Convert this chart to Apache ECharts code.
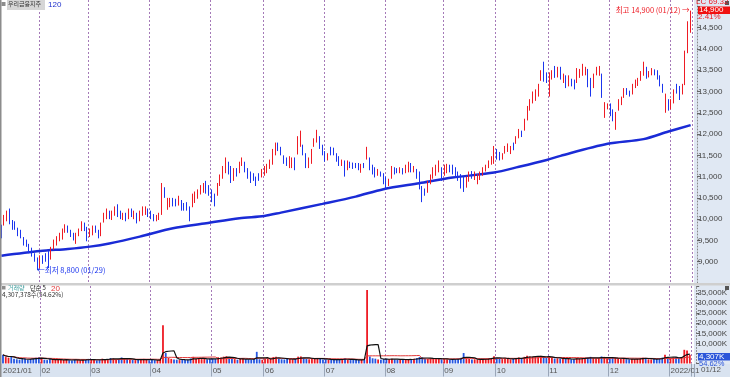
<!DOCTYPE html>
<html>
<head>
<meta charset="utf-8">
<script src="https://cdn.jsdelivr.net/npm/echarts@6/dist/echarts.min.js"></script>
<style>
  html, body { margin: 0; padding: 0; background: #fff; }
  #chart { width: 730px; height: 377px; }
</style>
</head>
<body>
<div id="chart"></div>
<script>
// trading days shown (2021-01-12 .. 2022-01-12)
const months = ['2021-01', '2021-02', '2021-03', '2021-04', '2021-05', '2021-06', '2021-07',
  '2021-08', '2021-09', '2021-10', '2021-11', '2021-12', '2022-01'];
const monthDays = [
  [12, 13, 14, 15, 18, 19, 20, 21, 22, 25, 26, 27, 28, 29],
  [1, 2, 3, 4, 5, 8, 9, 10, 15, 16, 17, 18, 19, 22, 23, 24, 25, 26],
  [2, 3, 4, 5, 8, 9, 10, 11, 12, 15, 16, 17, 18, 19, 22, 23, 24, 25, 26, 29, 30, 31],
  [1, 2, 5, 6, 7, 8, 9, 12, 13, 14, 15, 16, 19, 20, 21, 22, 23, 26, 27, 28, 29, 30],
  [3, 4, 6, 7, 10, 11, 12, 13, 14, 17, 18, 20, 21, 24, 25, 26, 27, 28, 31],
  [1, 2, 3, 4, 7, 8, 9, 10, 11, 14, 15, 16, 17, 18, 21, 22, 23, 24, 25, 28, 29, 30],
  [1, 2, 5, 6, 7, 8, 9, 12, 13, 14, 15, 16, 19, 20, 21, 22, 23, 26, 27, 28, 29, 30],
  [2, 3, 4, 5, 6, 9, 10, 11, 12, 13, 17, 18, 19, 20, 23, 24, 25, 26, 27, 30, 31],
  [1, 2, 3, 6, 7, 8, 9, 10, 13, 14, 15, 16, 17, 23, 24, 27, 28, 29, 30],
  [1, 5, 6, 7, 8, 12, 13, 14, 15, 18, 19, 20, 21, 22, 25, 26, 27, 28, 29],
  [1, 2, 3, 4, 5, 8, 9, 10, 11, 12, 15, 16, 17, 18, 19, 22, 23, 24, 25, 26, 29, 30],
  [1, 2, 3, 6, 7, 8, 9, 10, 13, 14, 15, 16, 17, 20, 21, 22, 23, 24, 27, 28, 29, 30],
  [3, 4, 5, 6, 7, 10, 11, 12]
];

// [open, close, low, high]
const ohlcJan21 = [[9820,9600,9550,9870],[9880,10050,9850,10100],[10000,10150,9950,10200],[10200,9900,9880,10250],
  [9950,9780,9750,9980],[9900,9800,9750,9950],[9750,9650,9600,9800],[9700,9580,9550,9750],[9550,9400,9380,9580],
  [9500,9380,9350,9520],[9400,9250,9200,9420],[9300,9150,9120,9330],[9180,9050,9000,9200],[9050,8900,8800,9100]];
const ohlcFeb21 = [[8900,9100,8850,9150],[9100,9000,8950,9150],[9150,9050,9000,9200],[9200,9000,8850,9250],
  [9100,9320,9050,9350],[9300,9500,9280,9520],[9400,9550,9380,9600],[9500,9650,9480,9680],[9550,9750,9520,9780],
  [9700,9850,9680,9880],[9800,9700,9680,9850],[9700,9600,9580,9750],[9650,9550,9500,9680],[9450,9650,9420,9680],
  [9650,9750,9600,9780],[9750,9900,9720,9950],[9900,9750,9720,9920],[9800,9550,9480,9820]];
const ohlcMar21 = [[9600,9750,9580,9780],[9650,9800,9620,9850],[9800,9700,9680,9850],[9700,9600,9550,9750],
  [9620,9900,9600,9920],[9950,10100,9920,10150],[10050,10200,10000,10250],[10150,10050,10000,10200],
  [10000,10150,9980,10200],[10100,10250,10080,10300],[10300,10100,10050,10350],[10150,10050,10000,10200],
  [10000,10100,9980,10150],[10100,10000,9950,10150],[10050,10200,10000,10250],[10200,10100,10050,10250],
  [10050,10150,10000,10200],[10100,9950,9900,10150],[9980,10150,9950,10200],[10100,10280,10080,10300],
  [10150,10250,10100,10300],[10200,10100,10050,10250]];
const ohlcApr21 = [[10150,10050,10000,10200],[10100,10000,9950,10120],[9980,10050,9950,10100],[10000,10120,9980,10150],
  [10150,10700,10100,10850],[10700,10550,10500,10750],[10250,10450,10220,10500],[10300,10450,10280,10500],
  [10450,10350,10300,10500],[10450,10350,10300,10480],[10350,10500,10320,10550],[10400,10250,10200,10450],
  [10350,10250,10200,10380],[10350,10250,10200,10400],[10280,10050,9950,10300],[10300,10550,10280,10600],
  [10400,10600,10380,10650],[10500,10650,10480,10700],[10600,10750,10580,10800],[10650,10800,10620,10850],
  [10850,10650,10600,10900],[10750,10600,10550,10800]];
const ohlcMay21 = [[10650,10450,10400,10700],[10550,10380,10300,10600],[10600,10800,10550,10850],[10800,11000,10780,11050],
  [11000,11200,10950,11250],[11100,11350,11080,11450],[11300,11100,11050,11350],[11200,10900,10850,11250],
  [10950,11150,10900,11200],[11150,11050,11000,11200],[11100,11320,11080,11350],[11300,11400,11250,11450],
  [11300,11150,11100,11350],[11150,10980,10950,11200],[11100,10880,10850,11120],[11050,10950,10900,11080],
  [10980,10820,10780,11000],[11050,10950,10900,11080],[11000,11150,10980,11180]];
const ohlcJun21 = [[11050,11200,11020,11250],[11100,11250,11080,11300],[11200,11350,11180,11400],[11300,11600,11280,11650],
  [11550,11750,11500,11800],[11750,11650,11600,11800],[11650,11560,11500,11700],[11470,11350,11300,11500],
  [11400,11300,11250,11450],[11230,11440,11200,11480],[11250,11400,11200,11450],[11400,11250,11150,11450],
  [11560,11910,11520,11950],[11750,12030,11700,12080],[11700,11550,11500,11750],[11500,11250,11200,11550],
  [11250,11400,11200,11450],[11350,11600,11300,11650],[11750,11860,11700,11900],[11820,12030,11800,12100],
  [11900,11700,11650,11950],[11700,11550,11500,11750]];
const ohlcJul21 = [[11560,11400,11350,11600],[11400,11500,11380,11550],[11650,11560,11500,11700],[11650,11550,11500,11680],
  [11500,11400,11350,11550],[11450,11300,11250,11480],[11280,11380,11250,11400],[11350,11050,11000,11380],
  [11200,11350,11150,11380],[11330,11250,11200,11350],[11300,11220,11180,11330],[11300,11220,11200,11320],
  [11300,11200,11150,11320],[11120,11280,11090,11300],[11300,11230,11200,11320],[11440,11630,11400,11700],
  [11440,11160,11150,11450],[11250,11100,11050,11280],[11200,11000,10980,11220],[11050,11150,11020,11180],
  [11100,11030,11000,11120],[11050,10850,10820,11080]];
const ohlcAug21 = [[10970,10760,10700,11000],[10800,10900,10780,10950],[10990,11200,10950,11250],[11180,11100,11050,11220],
  [11180,11100,11080,11200],[11100,11180,11080,11220],[11180,11100,11050,11200],[11100,11250,11080,11280],
  [11110,11330,11100,11350],[11300,11150,11100,11320],[11120,11220,11100,11250],[11150,11000,10950,11180],
  [11100,10800,10700,11120],[10760,10480,10400,10780],[10700,10600,10550,10720],[10640,10880,10620,10900],
  [10850,11000,10820,11050],[10990,11200,10950,11220],[11050,11250,11020,11280],[11110,11350,11100,11380],
  [11200,10920,10900,11220]];
const ohlcSep21 = [[11050,11250,11020,11280],[11100,11250,11080,11300],[11250,11150,11100,11280],[11250,11100,11050,11280],
  [11200,11000,10980,11220],[11100,10950,10900,11120],[11040,10760,10720,11060],[10970,10700,10640,11000],
  [10760,10970,10740,11000],[10900,11100,10880,11120],[11110,10990,10950,11130],[10950,11100,10920,11120],
  [10850,11040,10820,11060],[10950,11100,10920,11120],[11050,11200,11020,11220],[11150,11250,11120,11280],
  [11210,11350,11200,11380],[11300,11450,11280,11480],[11320,11700,11300,11720]];
const ohlcOct21 = [[11630,11440,11400,11650],[11550,11400,11380,11580],[11420,11520,11400,11550],[11560,11700,11540,11720],
  [11600,11750,11580,11780],[11550,11700,11530,11720],[11790,11650,11620,11800],[11790,11930,11770,11950],
  [11930,12100,11900,12120],[12050,11950,11930,12080],[12100,12340,12080,12360],[12340,12640,12320,12660],
  [12570,12800,12550,12820],[12740,12970,12720,13000],[12800,13000,12780,13050],[12900,13150,12880,13180],
  [13280,13470,13250,13500],[13600,13250,13230,13700],[13400,13250,13200,13450]];
const ohlcNov21 = [[12950,13400,12880,13450],[13300,13470,13280,13500],[13580,13350,13320,13600],[13350,13550,13330,13580],
  [13550,13300,13280,13580],[13230,13390,13200,13420],[13350,13110,13080,13380],[13150,13350,13120,13380],
  [13280,13150,13120,13300],[13250,13100,13050,13280],[13230,13510,13200,13550],[13350,13500,13320,13530],
  [13390,13630,13370,13650],[13400,13550,13380,13580],[13500,13150,13100,13530],[13300,13050,12880,13320],
  [13100,13400,13080,13420],[13400,13550,13380,13580],[13390,13580,13370,13600],[13400,12900,12850,13420],
  [12400,12700,12380,12750],[12600,12700,12580,12720]];
const ohlcDec21 = [[12690,12450,12420,12720],[12550,12350,12300,12580],[12300,12500,12100,12520],[12570,12800,12550,12820],
  [12700,12850,12680,12880],[12880,13050,12850,13080],[13050,12950,12920,13080],[13000,12900,12880,13020],
  [12950,13150,12930,13180],[13100,13250,13080,13280],[13150,13300,13130,13320],[13280,13450,13250,13480],
  [13390,13630,13370,13700],[13550,13320,13300,13580],[13350,13450,13330,13480],[13400,13520,13380,13550],
  [13500,13400,13380,13520],[13480,13300,13280,13500],[13350,13150,13120,13380],[13160,12990,12970,13180],
  [12600,12920,12500,12950],[12800,12600,12550,12820]];
const ohlcJan22 = [[12600,12800,12580,12820],[12750,13000,12720,13050],[13160,12970,12950,13180],[13110,12850,12800,13130],
  [12950,13150,12930,13180],[13160,13940,13150,13960],[13950,14550,13900,14650],[14700,14900,14380,14900]];

// volume, thousand shares
const volJan21 = [4300,3200,2900,3500,2400,2100,1900,2200,2600,1800,2300,2500,2800,3100];
const volFeb21 = [2600,1900,1700,2200,1800,2000,1900,1700,1800,2100,1600,1500,1900,1700,1500,2000,1800,2300];
const volMar21 = [1900,1700,1600,1800,2400,2200,2000,2700,2500,1900,2300,3000,2600,2200,2000,1800,1700,1900,2100,2300,1800,1600];
const volApr21 = [1900,1700,1600,1800,19000,5200,2800,2300,2000,1900,1700,2100,1800,1700,2500,3300,2300,2600,2200,2400,2000,2300];
const volMay21 = [2400,2200,3100,3000,3400,3600,2500,2800,2200,1900,2300,2500,2100,2000,1800,2200,5800,2100,1900];
const volJun21 = [2200,2400,2600,3200,3300,2400,2100,2000,2500,2200,2000,2300,3400,3500,2600,2300,2100,2600,2400,2700,2300,2000];
const volJul21 = [2100,1800,2000,1900,1800,2000,2300,2600,1800,1700,1900,1800,1700,1900,2000,36500,3500,2600,2400,2000,1900,2200];
const volAug21 = [2400,2100,2300,2000,1900,1800,2000,2200,1900,2100,2300,2700,3200,3000,2500,2300,2400,2500,2700,2200,2100];
const volSep21 = [2300,2000,1900,2100,2200,2400,2800,5200,2600,2300,2000,2100,1900,2000,2200,2400,2600,2700,3600];
const volOct21 = [2800,2400,2200,2600,2500,2100,2300,2700,3000,2500,3300,3900,3500,3400,3200,3600,3800,3300,2900];
const volNov21 = [3600,2700,2500,2600,2400,2300,2200,2500,2100,2000,2700,2400,2800,2600,2900,3300,2600,2500,2700,3500,3300,2500];
const volDec21 = [2600,2800,2900,2500,2300,2400,2100,2000,2300,2200,2400,2600,2800,2500,2100,2000,2200,2300,2600,2900,4300,3000];
const volJan22 = [2700,2900,3100,2600,3200,6800,6500,4307];

// 120-day price average at these day indexes
const ma120Idx = [0, 14, 24, 32, 39, 50, 62, 74, 86, 95, 101, 116, 128, 138, 151, 163, 178, 187, 197, 202, 219, 232, 241, 249];
const ma120Val = [9140, 9250, 9300, 9355, 9430, 9590, 9787, 9904, 10022, 10076, 10154, 10359, 10530, 10705, 10846,
  10978, 11096, 11230, 11390, 11488, 11770, 11881, 12060, 12210];

const priceTicks = [9000, 9500, 10000, 10500, 11000, 11500, 12000, 12500, 13000, 13500, 14000, 14500];
const volTicks = [10000, 15000, 20000, 25000, 30000, 35000];

const ohlc = [].concat(ohlcJan21, ohlcFeb21, ohlcMar21, ohlcApr21, ohlcMay21, ohlcJun21, ohlcJul21,
  ohlcAug21, ohlcSep21, ohlcOct21, ohlcNov21, ohlcDec21, ohlcJan22);
const volume = [].concat(volJan21, volFeb21, volMar21, volApr21, volMay21, volJun21, volJul21,
  volAug21, volSep21, volOct21, volNov21, volDec21, volJan22);

const dates = [];
const monthStart = new Set();
months.forEach((m, mi) => {
  monthDays[mi].forEach((d, di) => {
    if (di === 0 && mi > 0) monthStart.add(dates.length);
    dates.push(m + '-' + String(d).padStart(2, '0'));
  });
});

const RED = '#ee1b24';
const BLUE = '#1b35ee';
const NUM_FONT = '"Liberation Sans Narrow", "Liberation Sans", sans-serif';
const KR_FONT = '"Noto Sans CJK KR", "Noto Sans", sans-serif';

function movingAvg(arr, n) {
  return arr.map((_, i) => {
    const s = arr.slice(Math.max(0, i - n + 1), i + 1);
    return Math.round(s.reduce((a, b) => a + b, 0) / s.length);
  });
}

const fmt = (v) => v.toLocaleString('en-US');
const isMonthStart = (index) => monthStart.has(index);
const monthLine = { show: true, interval: isMonthStart, lineStyle: { color: '#a57ab8', type: [2, 2], width: 1 } };

const chart = echarts.init(document.getElementById('chart'), null, { renderer: 'canvas' });

const txt = (x, y, text, fill, size, font, extra) => Object.assign({
  type: 'text', z: 100, silent: true,
  style: { x, y, text, fill, fontSize: size, fontFamily: font || KR_FONT, align: 'left', verticalAlign: 'top',
    textAlign: 'left', textVerticalAlign: 'top' }
}, extra || {});
const rect = (x, y, w, h, fill, z) => ({
  type: 'rect', z: z === undefined ? -10 : z, silent: true, shape: { x, y, width: w, height: h }, style: { fill }
});

chart.setOption({
  animation: false,
  backgroundColor: '#ffffff',
  grid: [
    { left: 0, right: 38, top: 0, height: 283 },
    { left: 0, right: 38, top: 286, height: 77.5 }
  ],
  xAxis: [
    {
      type: 'category', gridIndex: 0, data: dates,
      axisLine: { show: false }, axisTick: { show: false }, axisLabel: { show: false },
      splitLine: monthLine
    },
    {
      type: 'category', gridIndex: 1, data: dates,
      axisLine: { show: false },
      axisTick: { show: true, interval: isMonthStart, length: 13, lineStyle: { color: '#9aa6b8' } },
      axisLabel: {
        interval: (index) => index === 0 || monthStart.has(index),
        formatter: (value, index) => {
          if (index === 0 || value.slice(5, 7) === '01') return value.slice(0, 7).replace('-', '/');
          return value.slice(5, 7);
        },
        align: 'left', margin: 3, fontSize: 8, color: '#555', fontFamily: NUM_FONT
      },
      splitLine: monthLine
    }
  ],
  yAxis: [
    {
      type: 'value', gridIndex: 0, position: 'right', offset: 5,
      min: 8500, max: 15150, interval: 500,
      axisLine: { show: true, lineStyle: { color: '#8a8a8a', type: [1, 2] } },
      axisTick: { show: true, length: 3, lineStyle: { color: '#666' } },
      axisLabel: {
        margin: 1, fontSize: 8, color: '#444', fontFamily: NUM_FONT,
        formatter: (v) => (priceTicks.includes(v) ? fmt(v) : '')
      },
      splitLine: { show: false }
    },
    {
      type: 'value', gridIndex: 1, position: 'right', offset: 5,
      min: 0, max: 38500, interval: 5000,
      axisLine: { show: true, lineStyle: { color: '#8a8a8a', type: [1, 2] } },
      axisTick: { show: true, length: 3, lineStyle: { color: '#666' } },
      axisLabel: {
        margin: 1, fontSize: 8, color: '#444', fontFamily: NUM_FONT,
        formatter: (v) => (volTicks.includes(v) ? fmt(v) + 'K' : '')
      },
      splitLine: { show: false }
    }
  ],
  series: [
    {
      type: 'line', name: '120', xAxisIndex: 0, yAxisIndex: 0,
      data: ma120Idx.map((idx, k) => [idx, ma120Val[k]]),
      symbol: 'none', smooth: 0.3,
      lineStyle: { color: '#1a2bd6', width: 2.5 },
      z: 1
    },
    {
      type: 'candlestick', xAxisIndex: 0, yAxisIndex: 0, data: ohlc,
      barWidth: 1.3,
      itemStyle: { color: RED, color0: BLUE, borderColor: RED, borderColor0: BLUE, borderWidth: 1 },
      z: 3,
      markPoint: {
        symbol: 'circle', symbolSize: 0,
        data: [
          {
            coord: ['2022-01-12', 14900],
            label: { show: true, position: 'left', distance: 1, formatter: '최고 14,900 (01/12) →',
              color: RED, fontSize: 7.5, fontFamily: KR_FONT }
          },
          {
            coord: ['2021-01-29', 8800],
            label: { show: true, position: 'right', distance: 0, formatter: '←최저 8,800 (01/29)',
              color: BLUE, fontSize: 7.5, fontFamily: KR_FONT }
          }
        ]
      }
    },
    {
      type: 'bar', xAxisIndex: 1, yAxisIndex: 1, barWidth: 1.8,
      data: volume.map((v, i) => ({ value: v, itemStyle: { color: ohlc[i][1] >= ohlc[i][0] ? RED : '#2456e0' } })),
      z: 2
    },
    {
      type: 'line', xAxisIndex: 1, yAxisIndex: 1, data: movingAvg(volume, 20),
      symbol: 'none', lineStyle: { color: '#e23a3a', width: 1 }, z: 4
    },
    {
      type: 'line', xAxisIndex: 1, yAxisIndex: 1, data: movingAvg(volume, 5),
      symbol: 'none', lineStyle: { color: '#111', width: 1.2 }, z: 5
    }
  ],
  graphic: [
    rect(694, 0, 36, 364, '#e0e8f3'),
    rect(0, 364, 730, 13, '#d9e3f0'),
    rect(694, 364, 1, 13, '#9aa6b8', 50),
    rect(0, 283, 730, 2.5, '#cfcfcf', 50),
    rect(0, 0, 1.5, 377, '#8c8c8c', 50),
    // price panel header
    rect(1.5, 2, 4, 4, '#8d8d8d', 60),
    rect(7, 0, 38, 10, '#d6d6d6', 60),
    txt(8, 1, '우리금융지주', '#333', 6),
    txt(48, 0.5, '120', '#2233cc', 8, NUM_FONT),
    // volume panel header
    rect(2, 286, 3.5, 3.5, '#8d8d8d', 60),
    txt(8, 285, '거래량', '#3f9d9d', 6),
    txt(30, 285, '단순 5', '#222', 6),
    txt(51, 284.5, '20', '#e23a3a', 8, NUM_FONT),
    txt(2, 291.5, '4,307,378주(54.62%)', '#333', 6.5),
    // right axis boxes
    txt(696, -2.5, 'LC 69.32', RED, 8, NUM_FONT),
    rect(698, 6.5, 32, 7.5, '#f01010', 60),
    txt(699, 6, '14,900', '#fff', 8, NUM_FONT),
    txt(698, 13, '2.41%', RED, 8, NUM_FONT),
    rect(698, 353, 32, 7.5, '#2b55d9', 60),
    txt(699, 352.5, '4,307K', '#fff', 8, NUM_FONT),
    txt(699, 359.5, '54.62%', '#2b55d9', 7.5, NUM_FONT),
    rect(725, 1, 4, 4, '#555', 60),
    rect(725, 286, 4, 4, '#555', 60),
    txt(701, 366, '01/12', '#555', 8, NUM_FONT)
  ]
});
</script>
</body>
</html>
